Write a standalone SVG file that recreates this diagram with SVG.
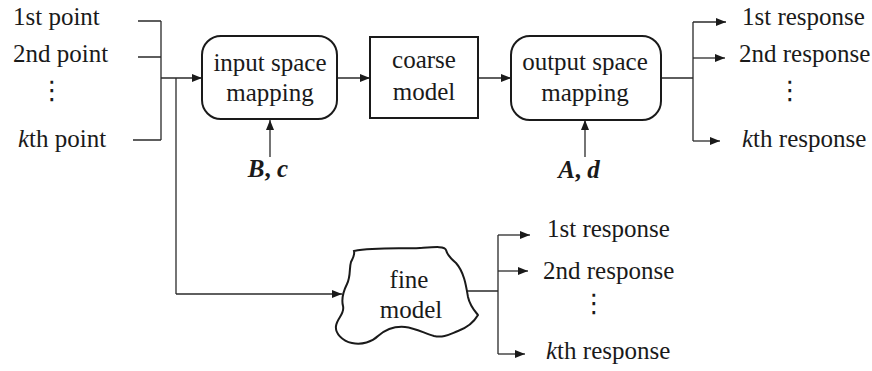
<svg xmlns="http://www.w3.org/2000/svg" width="872" height="371" viewBox="0 0 872 371">
  <style>
    .bg { fill: #ffffff; }
    .lbl { font-family: "Liberation Serif", "Times New Roman", serif; font-size: 25px; fill: #1a1a1a; }
    .mid { text-anchor: middle; }
    .par { font-family: "Liberation Serif", "Times New Roman", serif; font-size: 25px; font-weight: bold; font-style: italic; fill: #1a1a1a; text-anchor: middle; }
    .dots { font-family: "DejaVu Sans", sans-serif; font-size: 26px; fill: #1a1a1a; text-anchor: middle; }
    .box { fill: #ffffff; stroke: #1a1a1a; stroke-width: 2; }
    .wire { fill: none; stroke: #2a2a2a; stroke-width: 1.3; }
    .arr { fill: none; stroke: #2a2a2a; stroke-width: 1.3; marker-end: url(#head); }
  </style>
  <defs>
    <marker id="head" viewBox="0 0 10 8" refX="10" refY="4" markerWidth="10" markerHeight="8" markerUnits="userSpaceOnUse" orient="auto">
      <path d="M0,0 L10,4 L0,8 Z" fill="#1a1a1a"/>
    </marker>
  </defs>

  <rect class="bg" x="0" y="0" width="872" height="371"/>

  <!-- connectors -->
  <g id="connectors">
    <!-- sample points gathered onto one bus -->
    <path class="wire" d="M138,21 H161 M138,57 H161 M133,140 H161 M161,21 V140"/>
    <path class="arr" d="M161,78 H202"/>
    <!-- branch to the fine model -->
    <path class="wire" d="M176,78 V294"/>
    <path class="arr" d="M176,294 H342"/>
    <!-- coarse chain -->
    <path class="arr" d="M337,78 H370"/>
    <path class="arr" d="M478,78 H511"/>
    <!-- mapping parameters -->
    <path class="arr" d="M270,157 V120"/>
    <path class="arr" d="M585,157 V120"/>
    <!-- surrogate responses -->
    <path class="wire" d="M661,78 H693 M693,22 V141"/>
    <path class="arr" d="M693,22 H726"/>
    <path class="arr" d="M693,58 H725"/>
    <path class="arr" d="M693,141 H720"/>
    <!-- fine responses -->
    <path class="wire" d="M467,291 H498 M498,235 V354"/>
    <path class="arr" d="M498,235 H530"/>
    <path class="arr" d="M498,271 H528"/>
    <path class="arr" d="M498,354 H525"/>
  </g>

  <!-- input points -->
  <g id="points">
    <text class="lbl" x="13" y="25">1st point</text>
    <text class="lbl" x="13" y="62">2nd point</text>
    <text class="dots" x="52" y="99">⋮</text>
    <text class="lbl" x="18" y="147"><tspan font-style="italic">k</tspan>th point</text>
  </g>

  <g id="input-mapping">
    <rect class="box" x="202" y="36" width="135" height="83" rx="19"/>
    <text class="lbl mid" x="270" y="71">input space</text>
    <text class="lbl mid" x="270" y="101">mapping</text>
  </g>

  <g id="coarse-model">
    <rect class="box" x="370" y="37" width="108" height="81"/>
    <text class="lbl mid" x="424" y="68">coarse</text>
    <text class="lbl mid" x="424" y="100">model</text>
  </g>

  <g id="output-mapping">
    <rect class="box" x="511" y="36" width="150" height="84" rx="19"/>
    <text class="lbl mid" x="585" y="70">output space</text>
    <text class="lbl mid" x="585" y="101">mapping</text>
  </g>

  <g id="params-in">
    <text class="par" x="268" y="177">B<tspan font-style="normal">, </tspan>c</text>
  </g>
  <g id="params-out">
    <text class="par" x="579" y="178">A<tspan font-style="normal">, </tspan>d</text>
  </g>

  <g id="fine-model">
    <path class="box" stroke-width="1.5" d="M354,251 C375,247 400,249 420,248 C435,247 445,246 446,250 C447,254 450,258 456,263 C464,272 466,285 468,297 C470,306 474,310 478,315 C474,322 466,328 458,331 C450,334 444,338 434,336 C424,333 415,328 405,327 C394,326 385,330 378,336 C372,342 362,345 352,343 C342,341 335,333 336,326 C337,318 345,314 343,306 C341,298 344,290 347,284 C351,276 349,268 351,262 C353,258 355,255 354,251 Z"/>
    <text class="lbl mid" x="409" y="288">fine</text>
    <text class="lbl mid" x="411" y="318">model</text>
  </g>

  <g id="coarse-responses">
    <text class="lbl" x="742" y="25">1st response</text>
    <text class="lbl" x="739" y="62">2nd response</text>
    <text class="dots" x="790" y="99">⋮</text>
    <text class="lbl" x="742" y="147"><tspan font-style="italic">k</tspan>th response</text>
  </g>

  <g id="fine-responses">
    <text class="lbl" x="547" y="237">1st response</text>
    <text class="lbl" x="543" y="279">2nd response</text>
    <text class="dots" x="594" y="312">⋮</text>
    <text class="lbl" x="546" y="359"><tspan font-style="italic">k</tspan>th response</text>
  </g>
</svg>
